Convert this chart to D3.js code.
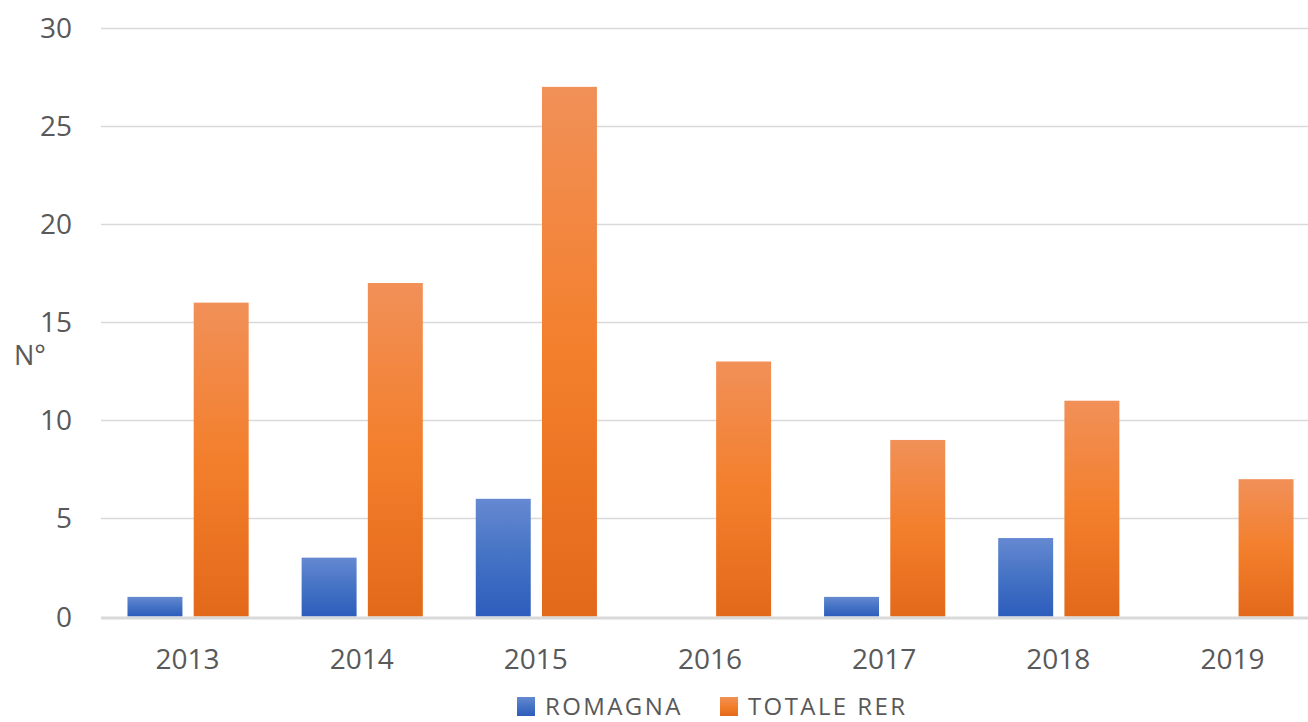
<!DOCTYPE html>
<html>
<head>
<meta charset="utf-8">
<script src="https://cdn.jsdelivr.net/npm/d3@7"></script>
<style>
  body { margin: 0; background: #fff; }
  svg { display: block; font-family: "Open Sans", sans-serif; }
</style>
</head>
<body>
<svg id="chart"></svg>
<script>
// data
const years = ['2013', '2014', '2015', '2016', '2017', '2018', '2019'];
const seriesNames = ['ROMAGNA', 'TOTALE RER'];
const romagna = [1, 3, 6, 0, 1, 4, 0];
const totaleRer = [16, 17, 27, 13, 9, 11, 7];
const yTicks = [0, 5, 10, 15, 20, 25, 30];

const width = 1308, height = 722;
const margin = { top: 28, right: -12, bottom: 105, left: 101 };

const svg = d3.select('#chart')
  .attr('width', width)
  .attr('height', height);

// gradients, one per series, stretched over each bar
const defs = svg.append('defs');
const gradStops = {
  'ROMAGNA': ['#6589d1', '#4472c4', '#2d5dbd'],
  'TOTALE RER': ['#f19058', '#f37f2c', '#e3691a']
};
seriesNames.forEach((s, i) => {
  const g = defs.append('linearGradient')
    .attr('id', 'grad' + i)
    .attr('x1', '0%').attr('x2', '0%')
    .attr('y1', '0%').attr('y2', '100%');
  gradStops[s].forEach((c, j) => {
    g.append('stop').attr('offset', (j * 50) + '%').attr('stop-color', c);
  });
});

const x0 = d3.scaleBand()
  .domain(years)
  .range([margin.left, width - margin.right])
  .paddingInner(0)
  .paddingOuter(0);

const x1 = d3.scaleBand()
  .domain(seriesNames)
  .range([0, x0.bandwidth()])
  .paddingInner(0.17)
  .paddingOuter(0.4);

const y = d3.scaleLinear()
  .domain([0, 30])
  .range([height - margin.bottom - 0.5, margin.top]);

// gridlines
svg.append('g')
  .selectAll('line')
  .data(yTicks.filter(t => t > 0))
  .enter().append('line')
  .attr('x1', margin.left)
  .attr('x2', width)
  .attr('y1', d => Math.round(y(d)) + 0.5)
  .attr('y2', d => Math.round(y(d)) + 0.5)
  .style('stroke', '#d9d9d9')
  .style('stroke-width', 1.3);

// y tick labels
svg.append('g')
  .selectAll('text')
  .data(yTicks)
  .enter().append('text')
  .attr('x', 72)
  .attr('y', d => y(d) + 10)
  .attr('text-anchor', 'end')
  .style('font-size', '28px')
  .style('fill', '#595959')
  .text(d => d);

// axis title
svg.append('text')
  .attr('x', 14)
  .attr('y', 365)
  .style('font-size', '27px')
  .style('fill', '#595959')
  .text('N°');

// bars
const rows = years.map((yr, i) => ({ year: yr, values: [romagna[i], totaleRer[i]] }));

const groups = svg.append('g')
  .selectAll('g')
  .data(rows)
  .enter().append('g')
  .attr('transform', d => `translate(${x0(d.year)},0)`);

groups.selectAll('rect')
  .data(d => d.values.map((v, i) => ({ key: seriesNames[i], value: v, idx: i })))
  .enter().append('rect')
  .filter(d => d.value > 0)
  .attr('x', d => x1(d.key))
  .attr('width', x1.bandwidth())
  .attr('y', d => y(d.value))
  .attr('height', d => y(0) - y(d.value))
  .attr('fill', d => `url(#grad${d.idx})`);

// baseline
svg.append('line')
  .attr('x1', margin.left)
  .attr('x2', width)
  .attr('y1', y(0) + 1.5)
  .attr('y2', y(0) + 1.5)
  .style('stroke', '#d9d9d9')
  .style('stroke-width', 3);

// x labels
svg.append('g')
  .selectAll('text')
  .data(years)
  .enter().append('text')
  .attr('x', d => x0(d) + x0.bandwidth() / 2 - 0.5)
  .attr('y', 669)
  .attr('text-anchor', 'middle')
  .style('font-size', '28px')
  .style('fill', '#595959')
  .text(d => d);

// legend
const legendPos = [517, 720];
const legend = svg.append('g')
  .selectAll('g')
  .data(seriesNames)
  .enter().append('g')
  .attr('transform', (d, i) => `translate(${legendPos[i]},697)`);

legend.append('rect')
  .attr('width', 18)
  .attr('height', 19)
  .attr('fill', (d, i) => `url(#grad${i})`);

legend.append('text')
  .attr('x', 28)
  .attr('y', 18)
  .style('font-size', '24px')
  .style('letter-spacing', '2.4px')
  .style('fill', '#595959')
  .text(d => d);
</script>
</body>
</html>
